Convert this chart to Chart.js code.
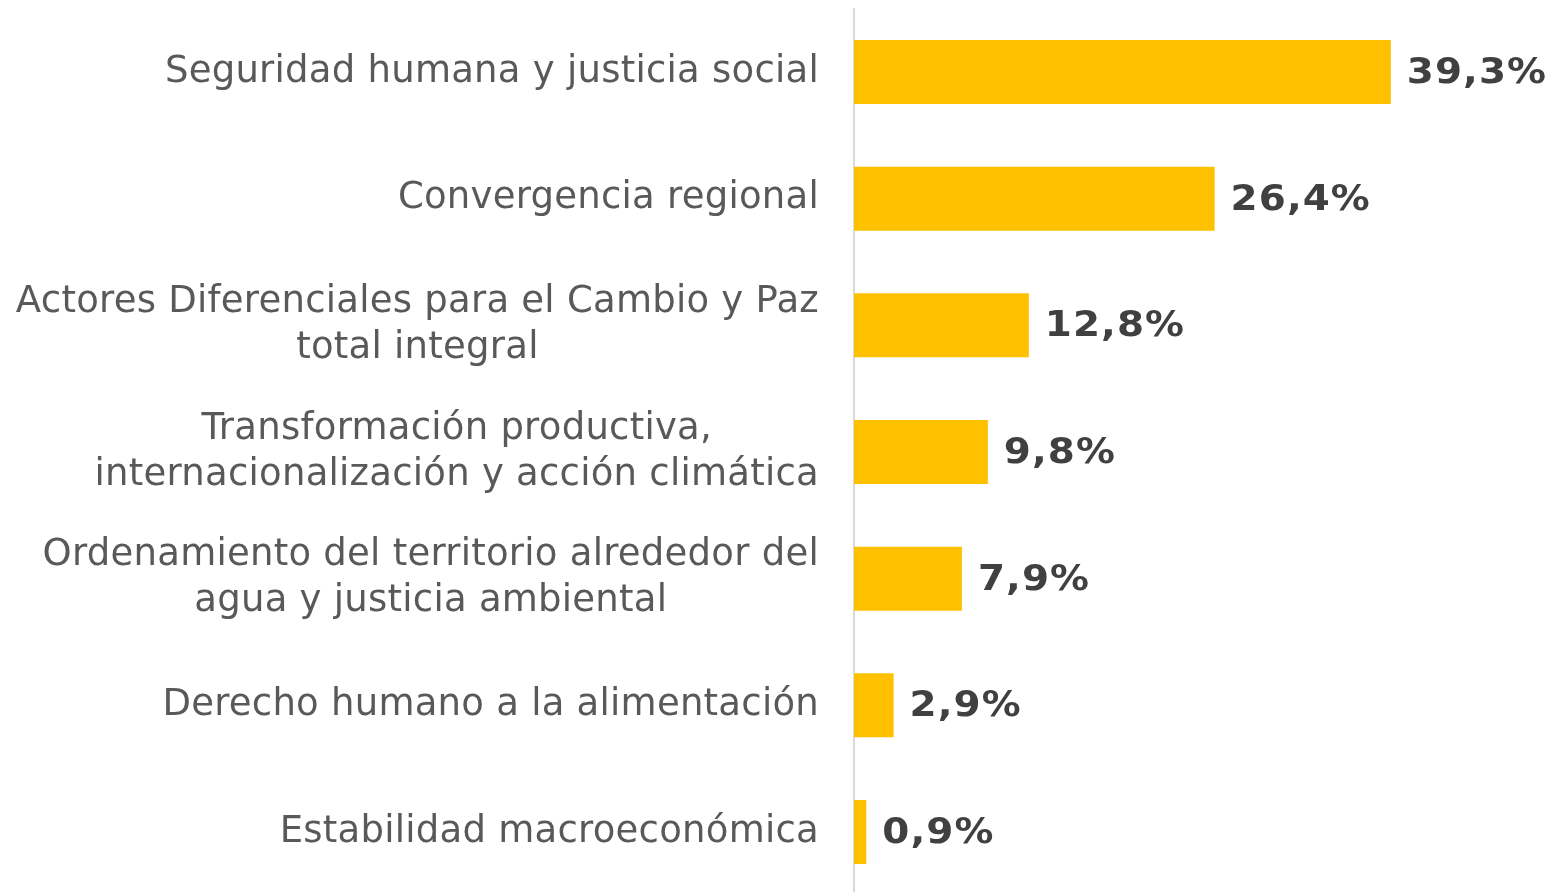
<!DOCTYPE html>
<html>
<head>
<meta charset="utf-8">
<script src="https://cdn.jsdelivr.net/npm/chart.js@4"></script>
<style>
  html, body { margin: 0; padding: 0; background: #fff; overflow: hidden; }
  #wrap { width: 1552px; height: 900px; }
</style>
</head>
<body>
<div id="wrap"><canvas id="chart" width="1552" height="900"></canvas></div>
<script>
// categories (pre-split into lines as in the original)
const categories = [
  ["Seguridad humana y justicia social"],
  ["Convergencia regional"],
  ["Actores Diferenciales para el Cambio y Paz", "total integral"],
  ["Transformación productiva,", "internacionalización y acción climática"],
  ["Ordenamiento del territorio alrededor del", "agua y justicia ambiental"],
  ["Derecho humano a la alimentación"],
  ["Estabilidad macroeconómica"]
];
const shares = [39.3, 26.4, 12.8, 9.8, 7.9, 2.9, 0.9];

const LABEL_FONT = "37px 'DejaVu Sans', Verdana, sans-serif";
const VALUE_FONT = "bold 36px 'DejaVu Sans', Verdana, sans-serif";

// draws the category names: block right aligned, lines centred inside the block
const categoryLabels = {
  id: "categoryLabels",
  afterDraw(chart) {
    const ctx = chart.ctx;
    const y = chart.scales.y;
    const rightEdge = 819;
    const lineH = 46;
    ctx.save();
    ctx.font = LABEL_FONT;
    ctx.letterSpacing = "0.25px";
    ctx.fillStyle = "#595959";
    ctx.textAlign = "center";
    ctx.textBaseline = "middle";
    chart.data.labels.forEach((lines, i) => {
      const cy = y.getPixelForTick(i);
      const w = Math.max(...lines.map(l => ctx.measureText(l).width));
      const cx = rightEdge - w / 2;
      const y0 = cy - (lines.length - 1) * lineH / 2;
      lines.forEach((l, k) => ctx.fillText(l, cx, y0 + k * lineH));
    });
    ctx.restore();
  }
};

// value labels at the end of each bar (slightly widened, verdana bold is wide)
const valueLabels = {
  id: "valueLabels",
  afterDatasetsDraw(chart) {
    const ctx = chart.ctx;
    const meta = chart.getDatasetMeta(0);
    meta.data.forEach((bar, i) => {
      const txt = shares[i].toFixed(1).replace(".", ",") + "%";
      ctx.save();
      ctx.font = VALUE_FONT;
      ctx.letterSpacing = "1px";
      ctx.fillStyle = "#404040";
      ctx.textAlign = "left";
      ctx.textBaseline = "middle";
      ctx.translate(bar.x + 16, bar.y + 1.5);
      ctx.scale(1.08, 1);
      ctx.fillText(txt, 0, 0);
      ctx.restore();
    });
  }
};

const ctx = document.getElementById("chart").getContext("2d");
new Chart(ctx, {
  type: "bar",
  data: {
    labels: categories,
    datasets: [{
      data: shares,
      backgroundColor: "#FFC000",
      borderWidth: 0,
      categoryPercentage: 1,
      barPercentage: 0.505
    }]
  },
  options: {
    indexAxis: "y",
    responsive: false,
    animation: false,
    layout: { padding: { top: 8.67, bottom: 4.67, left: 0, right: 15 } },
    plugins: {
      legend: { display: false },
      tooltip: { enabled: false }
    },
    scales: {
      x: {
        display: false,
        min: 0,
        max: 50
      },
      y: {
        grid: { display: false, drawTicks: false },
        border: { display: true, color: "#D9D9D9", width: 2 },
        ticks: { display: false },
        afterFit(scale) { scale.width = 854; }
      }
    }
  },
  plugins: [categoryLabels, valueLabels]
});
</script>
</body>
</html>
